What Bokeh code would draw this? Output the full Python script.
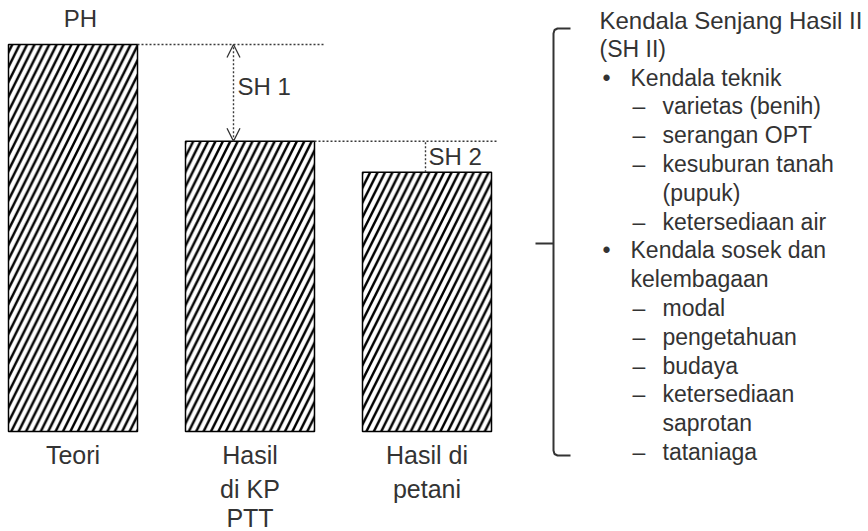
from bokeh.plotting import figure
from bokeh.models import Range1d, Arrow, OpenHead
from bokeh.core.properties import value
from bokeh.embed import file_html
from bokeh.resources import INLINE

# ---------------- data ----------------
categories = ["Teori", "Hasil\ndi KP\nPTT", "Hasil di\npetani"]
yield_level = [100, 75, 67]          # relative yield level (Teori = 100)
top_label = "PH"
gap_labels = ["SH 1", "SH 2"]
notes_title = ["Kendala Senjang Hasil II", "(SH II)"]
notes_level = [1, 2, 2, 2, 2, 2, 1, 1, 2, 2, 2, 2, 2, 2]
notes_marker = ["•", "–", "–", "–", "", "–", "•", "", "–", "–", "–", "–", "", "–"]
notes_text = ["Kendala teknik", "varietas (benih)", "serangan OPT", "kesuburan tanah",
              "(pupuk)", "ketersediaan  air", "Kendala sosek dan", "kelembagaan",
              "modal", "pengetahuan", "budaya", "ketersediaan", "saprotan", "tataniaga"]

# ---------------- layout helpers (page pixels -> data units) ----------------
W, H = 868, 531
OFF = 0              # page offset of the canvas
SPACING = 177.0      # px between bar centres
X0 = 72.5            # page x of first bar centre
BASE = 431.0         # page y of bar bottoms
PX_PER_UNIT = (BASE - 44.0) / yield_level[0]
TSHIFT = 9.0         # text baseline correction

def dx(px):
    return (px - X0) / SPACING

def dy(py):
    return (BASE - py) / PX_PER_UNIT

def ty(py):
    return dy(py - TSHIFT)

FONT = value("Liberation Sans")
TXT = "#333333"
DASH = "#3a3a3a"

p = figure(width=W, height=H, output_backend="svg", toolbar_location=None,
           x_range=Range1d(dx(OFF), dx(OFF + W)), y_range=Range1d(dy(OFF + H), dy(OFF)),
           x_axis_location=None, y_axis_location=None, min_border=0,
           outline_line_color=None, background_fill_color="white")
p.grid.visible = False

idx = list(range(len(categories)))
bw = 129.0 / SPACING
p.vbar(x=idx, top=yield_level, bottom=0, width=bw, fill_color="white",
       line_color="black", line_width=1.5, hatch_pattern="/", hatch_scale=14.8,
       hatch_weight=2.5, hatch_color="black")

# dashed reference lines at bar tops
p.line([idx[0] + bw / 2, dx(323)], [yield_level[0]] * 2, line_color=DASH,
       line_width=1.4, line_dash="2 2")
p.line([idx[1] + bw / 2, dx(496)], [yield_level[1]] * 2, line_color=DASH,
       line_width=1.4, line_dash="2 2")

# SH 1 double arrow
ax = dx(233)
p.add_layout(Arrow(start=OpenHead(size=13, line_color="#333333", line_width=1.3),
                   end=OpenHead(size=13, line_color="#333333", line_width=1.3),
                   x_start=ax, y_start=yield_level[1], x_end=ax, y_end=yield_level[0],
                   line_color=DASH, line_width=1.4, line_dash="2 2"))
# SH 2 marker
p.line([dx(425)] * 2, [yield_level[2], yield_level[1]], line_color=DASH,
       line_width=1.4, line_dash="2 2")

p.text(x=[dx(80)], y=[ty(27)], text=[top_label], text_font=FONT, text_font_size="24px",
       text_color=TXT, text_align="center", text_baseline="alphabetic")
p.text(x=[dx(237)], y=[ty(95)], text=[gap_labels[0]], text_font=FONT, text_font_size="24px",
       text_color=TXT, text_align="left", text_baseline="alphabetic")
p.text(x=[dx(428)], y=[ty(165)], text=[gap_labels[1]], text_font=FONT, text_font_size="24px",
       text_color=TXT, text_align="left", text_baseline="alphabetic")

# category labels
line_base = [463, 497, 526]
lx, ly, lt = [], [], []
for i, c in enumerate(categories):
    for j, part in enumerate(c.split("\n")):
        lx.append(idx[i]); ly.append(ty(line_base[j])); lt.append(part)
p.text(x=lx, y=ly, text=lt, text_font=FONT, text_font_size="25px", text_color=TXT,
       text_align="center", text_baseline="alphabetic")

# bracket
bx = dx(553)
p.line([dx(570), dx(557), dx(554), bx, bx, dx(554), dx(557), dx(570)],
       [dy(28), dy(28), dy(29.5), dy(33), dy(450), dy(453.5), dy(455), dy(455)],
       line_color="#333333", line_width=2)
p.line([dx(535), bx], [dy(243), dy(243)], line_color="#333333", line_width=2)

# notes text
STEP = 28.8
B0 = 28.5
p.text(x=[dx(599)], y=[ty(B0)], text=[notes_title[0]], text_font=FONT,
       text_font_size="24px", text_color=TXT, text_baseline="alphabetic")
p.text(x=[dx(599)], y=[ty(B0 + STEP)], text=[notes_title[1]], text_font=FONT,
       text_font_size="23px", text_color=TXT, text_baseline="alphabetic")
mk_x = {1: 602, 2: 632}
tx_x = {1: 630, 2: 662}
mx, my, mt, nx, ny, nt = [], [], [], [], [], []
for k, (lev, mk, t) in enumerate(zip(notes_level, notes_marker, notes_text)):
    yy = ty(B0 + STEP * (k + 2))
    if mk:
        mx.append(dx(mk_x[lev])); my.append(yy); mt.append(mk)
    nx.append(dx(tx_x[lev])); ny.append(yy); nt.append(t)
p.text(x=mx, y=my, text=mt, text_font=FONT, text_font_size="23px", text_color=TXT,
       text_baseline="alphabetic")
p.text(x=nx, y=ny, text=nt, text_font=FONT, text_font_size="23px", text_color=TXT,
       text_baseline="alphabetic")

open("out.html", "w").write(file_html(p, INLINE))
